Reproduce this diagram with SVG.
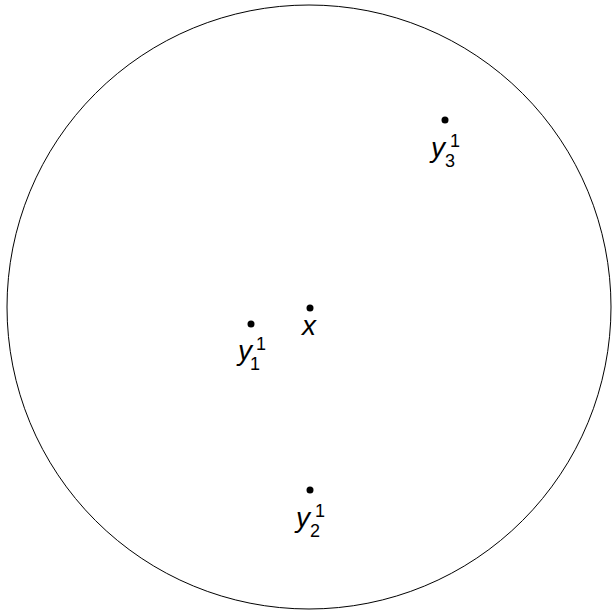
<svg xmlns="http://www.w3.org/2000/svg" width="612" height="612" viewBox="0 0 612 612">
<style>
.pt{fill:#000}
.lbl{font-family:"Liberation Sans",Arial,sans-serif;fill:#000}
.v{font-size:28px;font-style:italic}
.s{font-size:18px}
</style>
<rect width="612" height="612" fill="#fff"/>
<circle cx="309" cy="307" r="302" fill="none" stroke="#000" stroke-width="1"/>
<g id="x"><circle class="pt" cx="310" cy="308" r="3.5"/><text class="lbl v" x="302" y="335">x</text></g>
<g id="y1"><circle class="pt" cx="251" cy="324" r="3.5"/><text class="lbl v" x="238" y="360">y</text><text class="lbl s" x="250" y="370">1</text><text class="lbl s" x="256" y="350">1</text></g>
<g id="y2"><circle class="pt" cx="310" cy="490" r="3.5"/><text class="lbl v" x="296" y="527">y</text><text class="lbl s" x="310" y="537">2</text><text class="lbl s" x="315" y="517">1</text></g>
<g id="y3"><circle class="pt" cx="445" cy="120" r="3.5"/><text class="lbl v" x="431" y="157">y</text><text class="lbl s" x="445" y="167">3</text><text class="lbl s" x="450" y="147">1</text></g>
</svg>
